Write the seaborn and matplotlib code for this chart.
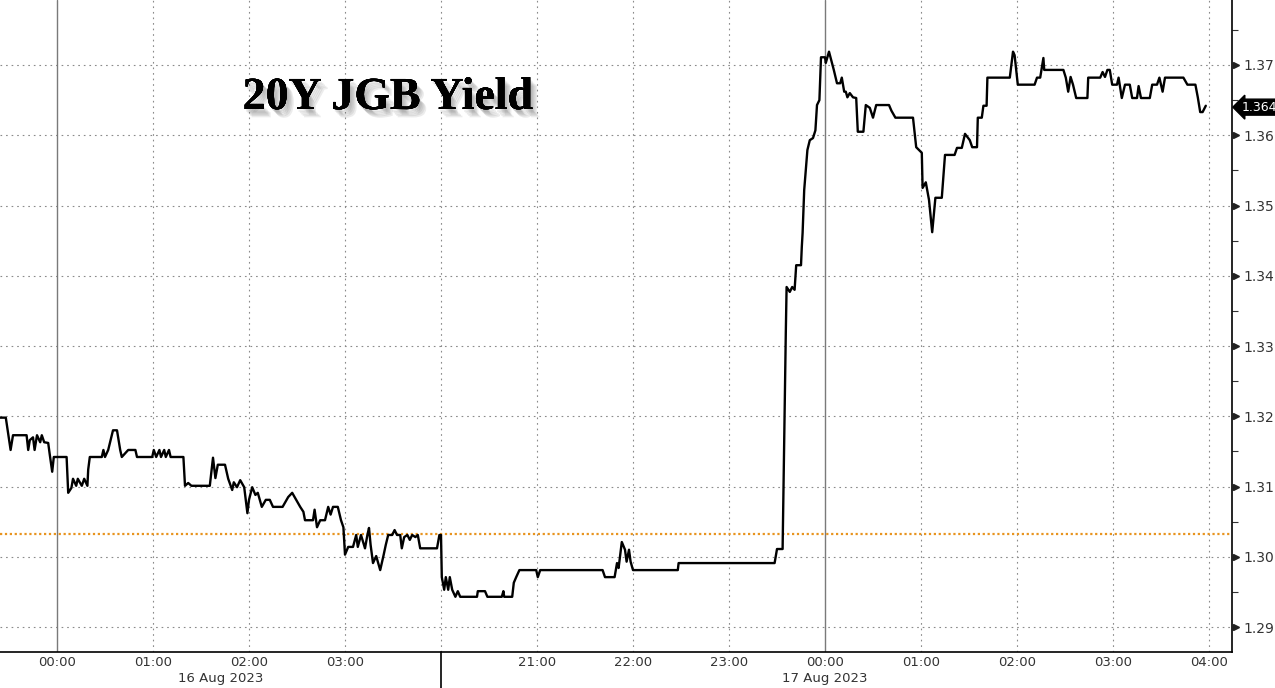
import pandas as pd
import matplotlib
matplotlib.use("Agg")
import matplotlib.pyplot as plt
import matplotlib.patheffects as pe
import seaborn as sns

# === DATA ===
# session 1: minutes from 16 Aug 00:00
s1_minutes = [-36, -32, -29, -27.5, -19, -18, -17, -15, -14, -12.5, -10.5, -9.5, -8, -5.5, -4.5, -3, -2,
              6, 7, 9, 10, 12, 13, 15.5, 17, 19, 19.5, 20.5, 28, 29, 30, 32, 35, 37.5, 39.5, 40.5, 44.5,
              49, 50, 59.5, 60.5, 62, 64, 65, 67, 68, 70, 71, 79, 80, 82, 84, 95.5, 97.5, 99, 100.5,
              105, 107, 109.5, 110.5, 112.5, 114.5, 117, 119, 120, 122, 124, 125.5, 128, 130.5, 133,
              135, 141, 144.5, 147, 149.5, 152, 154, 155, 160, 161, 162.5, 164.5, 167.5, 169.5, 171,
              172.5, 175.5, 177.5, 179, 180, 182, 185, 187, 188, 190, 192.5, 194, 195, 196, 197.5,
              199.5, 200.5, 202, 204, 205.5, 207, 209.5, 211, 212.5, 214.5, 215.5, 217, 219, 220.5,
              222, 224, 225.5, 227, 237.5, 239, 240]
s1_yield = [1.3198, 1.3198, 1.3152, 1.3173, 1.3173, 1.3152, 1.3166, 1.3170, 1.3152, 1.3173, 1.3163,
            1.3173, 1.3163, 1.3162, 1.3145, 1.3121, 1.3142, 1.3142, 1.3091, 1.3098, 1.3111, 1.3101,
            1.3111, 1.3101, 1.3111, 1.3101, 1.3124, 1.3142, 1.3142, 1.3152, 1.3142, 1.3152, 1.3180,
            1.3180, 1.3152, 1.3142, 1.3152, 1.3152, 1.3142, 1.3142, 1.3152, 1.3142, 1.3152, 1.3142,
            1.3152, 1.3142, 1.3152, 1.3142, 1.3142, 1.3101, 1.3105, 1.3101, 1.3101, 1.3141, 1.3112,
            1.3131, 1.3131, 1.3111, 1.3095, 1.3106, 1.3099, 1.3109, 1.3099, 1.3062, 1.3081, 1.3099,
            1.3088, 1.3091, 1.3071, 1.3081, 1.3081, 1.3071, 1.3071, 1.3085, 1.3091, 1.3081, 1.3071,
            1.3064, 1.3052, 1.3052, 1.3067, 1.3042, 1.3052, 1.3052, 1.3071, 1.3060, 1.3071, 1.3071,
            1.3052, 1.3042, 1.3003, 1.3014, 1.3014, 1.3031, 1.3014, 1.3031, 1.3012, 1.3031, 1.3041,
            1.3017, 1.2991, 1.3001, 1.2993, 1.2981, 1.3001, 1.3017, 1.3031, 1.3031, 1.3038, 1.3031,
            1.3031, 1.3012, 1.3028, 1.3031, 1.3024, 1.3031, 1.3028, 1.3031, 1.3012, 1.3012, 1.3031,
            1.3031]

# session 2: minutes from 16 Aug 20:00
s2_minutes = [0.5, 2, 3, 4.5, 5.5, 7, 9, 10.5, 12, 22.5, 23, 27.5, 29, 38, 39, 39.5, 44.5, 45.5, 47, 49,
              59.5, 60.5, 62, 101, 102.5, 108.5, 110, 111, 113, 115, 116, 117.5, 118.5, 120, 148, 148.5,
              208.5, 210, 213.5, 214.5, 215.5, 216, 218, 219.5, 221, 222, 225, 225.5, 226, 227, 229,
              230.5, 232.5, 234, 235, 236.5, 237.5, 240, 240.5, 242.5, 245.5, 247.5, 249.5, 250.5, 252,
              253, 254, 255.5, 257.5, 259.5, 260.5, 264, 265.5, 268, 270, 272, 280, 281.5, 284, 295,
              297, 300.5, 301, 303, 305, 307, 309, 313, 315, 321, 322.5, 325.5, 327.5, 330.5, 332, 335,
              335.5, 338, 339, 341, 341.5, 355.5, 357.5, 358.5, 360.5, 371, 372.5, 374.5, 376.5, 377,
              389, 390.5, 392, 393.5, 395, 397, 404, 404.5, 412, 413.5, 415, 416.5, 418, 419.5, 422.5,
              423.5, 425.5, 427.5, 430.5, 432, 435, 436, 437.5, 443, 444.5, 447.5, 449, 451, 452.5,
              464, 466.5, 471.5, 473, 474.5, 476, 478]
s2_yield = [1.2971, 1.2953, 1.2971, 1.2953, 1.2971, 1.2953, 1.2943, 1.2951, 1.2943, 1.2943, 1.2951,
            1.2951, 1.2943, 1.2943, 1.2951, 1.2943, 1.2943, 1.2963, 1.2971, 1.2981, 1.2981, 1.2971,
            1.2981, 1.2981, 1.2971, 1.2971, 1.2991, 1.2984, 1.3021, 1.3010, 1.2993, 1.3010, 1.2993,
            1.2981, 1.2981, 1.2991, 1.2991, 1.3011, 1.3011, 1.3170, 1.3319, 1.3384, 1.3377, 1.3384,
            1.3380, 1.3415, 1.3415, 1.3441, 1.3461, 1.3522, 1.3579, 1.3593, 1.3596, 1.3607, 1.3643,
            1.3650, 1.3711, 1.3711, 1.3703, 1.3719, 1.3693, 1.3674, 1.3674, 1.3682, 1.3662, 1.3662,
            1.3654, 1.3660, 1.3654, 1.3653, 1.3605, 1.3605, 1.3643, 1.3639, 1.3625, 1.3643, 1.3643,
            1.3635, 1.3625, 1.3625, 1.3583, 1.3575, 1.3525, 1.3533, 1.3508, 1.3462, 1.3511, 1.3511,
            1.3572, 1.3572, 1.3582, 1.3582, 1.3602, 1.3593, 1.3583, 1.3583, 1.3625, 1.3625, 1.3642,
            1.3642, 1.3682, 1.3682, 1.3719, 1.3714, 1.3672, 1.3672, 1.3682, 1.3682, 1.3710, 1.3693,
            1.3693, 1.3682, 1.3662, 1.3683, 1.3672, 1.3653, 1.3653, 1.3682, 1.3682, 1.3690, 1.3683,
            1.3693, 1.3693, 1.3672, 1.3672, 1.3682, 1.3653, 1.3672, 1.3672, 1.3653, 1.3653, 1.3670,
            1.3653, 1.3653, 1.3672, 1.3672, 1.3682, 1.3662, 1.3682, 1.3682, 1.3672, 1.3672, 1.3654,
            1.3633, 1.3633, 1.3642]

hour_labels = ["00:00", "01:00", "02:00", "03:00", "", "21:00", "22:00", "23:00",
               "00:00", "01:00", "02:00", "03:00", "04:00"]
date_labels = ["16 Aug 2023", "17 Aug 2023"]
y_ticks = [1.29, 1.30, 1.31, 1.32, 1.33, 1.34, 1.35, 1.36, 1.37]
ref_level = 1.3033
last_value = 1.364
title = "20Y JGB Yield"

# compressed time axis: hours, with the 04:00 -> 20:00 gap removed
df = pd.concat([
    pd.DataFrame({"pos": [m / 60 for m in s1_minutes], "yield": s1_yield}),
    pd.DataFrame({"pos": [4 + m / 60 for m in s2_minutes], "yield": s2_yield}),
], ignore_index=True)

# === PLOT ===
sns.set_style("white")
plt.rcParams["font.family"] = ["DejaVu Sans"]

fig = plt.figure(figsize=(12.75, 6.88), dpi=100)
ax = fig.add_axes([0, 1 - 652 / 688, 1232 / 1275, 652 / 688])

grid_kw = dict(color="#8a8a8a", lw=0.8, ls=(0, (1.5, 3.5)), zorder=1)
for y in y_ticks:
    ax.axhline(y, **grid_kw)
for i, lab in enumerate(hour_labels):
    if lab == "00:00":
        ax.axvline(i, color="#7a7a7a", lw=1.0, zorder=1)
    else:
        ax.axvline(i, **grid_kw)

ax.axhline(ref_level, color="#e8941f", lw=1.6, ls=(0, (1, 1.2)), zorder=2)

sns.lineplot(data=df, x="pos", y="yield", ax=ax, color="black", lw=1.7,
             sort=False, estimator=None, zorder=3)

ax.set_xlim(-57 / 96, (1232 - 57) / 96)
ax.set_ylim(1.37 - 587 / 7025, 1.37 + 65 / 7025)
ax.set_xlabel("")
ax.set_ylabel("")

# x axis
ax.set_xticks(range(len(hour_labels)))
ax.set_xticklabels(hour_labels, fontsize=9.5, color="#333333")
ax.set_xticks([i - 0.5 for i in range(len(hour_labels))], minor=True)
ax.tick_params(axis="x", which="major", length=0, pad=3)
ax.tick_params(axis="x", which="minor", length=4, width=0.8, color="#333333", direction="out")
xt = ax.get_xaxis_transform()
ax.text(221 / 96 - 57 / 96, -0.040, date_labels[0], transform=xt, ha="center", va="center",
        fontsize=9.5, color="#333333")
ax.text(8, -0.040, date_labels[1], transform=xt, ha="center", va="center",
        fontsize=9.5, color="#333333")
ax.plot([4, 4], [0, -0.06], transform=xt, color="black", lw=1.2, clip_on=False)

# y axis on the right
ax.yaxis.tick_right()
ax.set_yticks(y_ticks)
ax.set_yticklabels([f"{v:.2f}" for v in y_ticks], fontsize=10, color="#333333")
ax.set_yticks([v + 0.005 for v in y_ticks], minor=True)
ax.tick_params(axis="y", which="major", length=0, pad=8)
ax.tick_params(axis="y", which="minor", length=4, width=0.8, color="#333333", direction="out")
yt = ax.get_yaxis_transform()
ax.plot([1.0035] * len(y_ticks), y_ticks, transform=yt, ls="none", marker=">",
        ms=5, color="#222222", clip_on=False)

ax.text(1.0075, last_value, f"{last_value:.3f}", transform=yt, ha="left", va="center",
        fontsize=9, color="white",
        bbox=dict(boxstyle="larrow,pad=0.12", fc="black", ec="black"))

for side in ["left", "top"]:
    ax.spines[side].set_visible(False)
for side in ["right", "bottom"]:
    ax.spines[side].set_color("black")
    ax.spines[side].set_linewidth(1.2)

shadow = [pe.withSimplePatchShadow(offset=(dx, -dx - 1), shadow_rgbFace="#666666", alpha=0.12)
          for dx in (1, 2, 3, 4, 5)]
ax.text(388 / 1232, 1 - 98 / 652, title, transform=ax.transAxes, ha="center", va="center",
        fontsize=33, fontweight="bold", family="Liberation Serif", color="black", zorder=5,
        path_effects=shadow + [pe.Normal()])

fig.savefig("out.png", dpi=100, facecolor="white")
